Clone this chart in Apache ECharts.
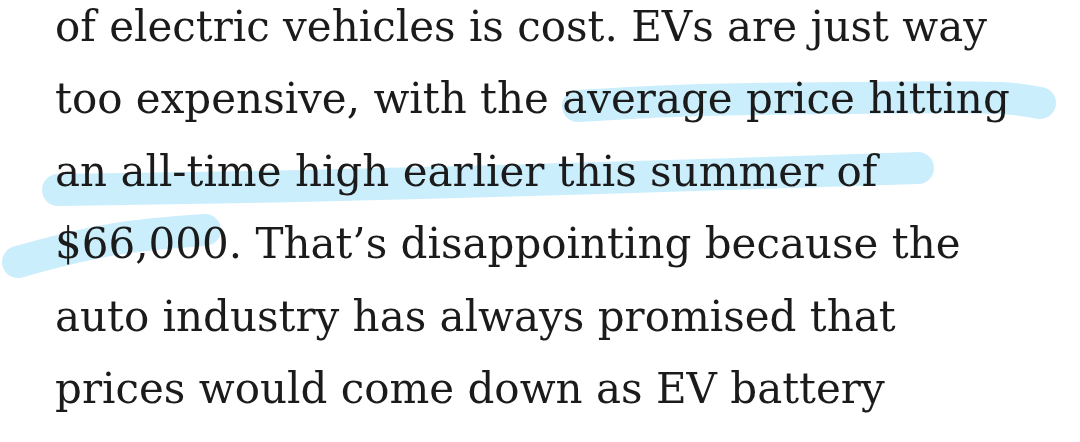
<!DOCTYPE html>
<html>
<head>
<meta charset="utf-8">
<script src="https://cdn.jsdelivr.net/npm/echarts@6/dist/echarts.min.js"></script>
<style>html,body{margin:0;background:#fff}#main{width:1080px;height:442px}</style>
</head>
<body>
<div id="main"></div>
<script>
var lines = [
  'of electric vehicles is cost. EVs are just way',
  'too expensive, with the average price hitting',
  'an all-time high earlier this summer of',
  '$66,000. That\u2019s disappointing because the',
  'auto industry has always promised that',
  'prices would come down as EV battery'
];
// highlighter strokes: [x, y] pairs in pixels
var strokes = [
  [[578, 106], [700, 100], [850, 98], [1000, 98], [1040, 103]],
  [[58, 190], [300, 186], [600, 178], [918, 168]],
  [[18, 262], [110, 240], [205, 230]]
];

var chart = echarts.init(document.getElementById('main'));
var graphic = [];
strokes.forEach(function (pts) {
  graphic.push({
    type: 'polyline', z: 1,
    shape: { points: pts, smooth: 0.4 },
    style: { stroke: '#cbeefc', lineWidth: 32, lineCap: 'round', lineJoin: 'round', fill: null }
  });
});
lines.forEach(function (t, i) {
  graphic.push({
    type: 'text', z: 10, x: 55, y: 30 + i * 72.5,
    style: {
      text: t, fill: '#1b1b1b', font: '42px "DejaVu Serif", serif',
      verticalAlign: 'middle', align: 'left'
    }
  });
});
chart.setOption({ backgroundColor: '#fff', graphic: graphic });
</script>
</body>
</html>
